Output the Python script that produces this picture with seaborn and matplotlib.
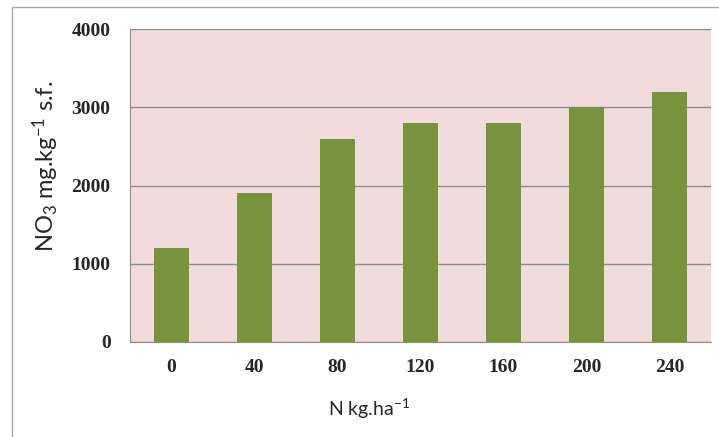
import matplotlib
matplotlib.use("Agg")
import matplotlib.pyplot as plt
import seaborn as sns
import pandas as pd
from matplotlib.patches import Rectangle

# data
n_rates = ["0", "40", "80", "120", "160", "200", "240"]
no3_values = [1200, 1900, 2600, 2800, 2800, 3000, 3200]

df = pd.DataFrame({"N": n_rates, "NO3": no3_values})

sns.set_style("white")
plt.rcParams["mathtext.fontset"] = "custom"
plt.rcParams["mathtext.rm"] = "Lato"
plt.rcParams["mathtext.default"] = "regular"

fig = plt.figure(figsize=(7.19, 4.37), dpi=100)
# outer chart frame (like the Excel chart area)
fig.patches.append(Rectangle((12 / 719, -0.05), 1.2, 1 - 7 / 437 + 0.05,
                             transform=fig.transFigure, fill=False,
                             edgecolor="#a6a6a6", linewidth=1.0))

ax = fig.add_axes([130 / 719, 1 - 342 / 437, 581 / 719, (342 - 29) / 437])
ax.set_facecolor("#f2dcdb")

sns.barplot(data=df, x="N", y="NO3", color="#77933c", saturation=1,
            width=0.41, linewidth=0, ax=ax, zorder=3)

ax.set_ylim(0, 4000)
ax.set_yticks([0, 1000, 2000, 3000, 4000])
ax.yaxis.grid(True, color="#8c8c8c", linewidth=1.0, zorder=0)
ax.set_axisbelow(True)

for side in ["top", "right"]:
    ax.spines[side].set_visible(False)
ax.spines["left"].set_color("#8c8c8c")
ax.spines["bottom"].set_color("#8c8c8c")

ax.tick_params(axis="both", length=0)
ax.tick_params(axis="x", pad=12)
ax.tick_params(axis="y", pad=14)
for lab in ax.get_yticklabels() + ax.get_xticklabels():
    lab.set_fontfamily("Liberation Serif")
    lab.set_fontweight("bold")
    lab.set_fontsize(14)
    lab.set_color("#262626")

ax.set_xlabel("N kg.ha$^{-1}$", fontsize=14, family="Lato", color="#262626")
ax.set_ylabel("NO$_3$ mg.kg$^{-1}$ s.f.", fontsize=17, family="Lato", color="#262626")
ax.xaxis.set_label_coords(0.411, -0.214)
ax.yaxis.set_label_coords(-0.145, 0.562)
ax.xaxis.label.set_va("center")
ax.yaxis.label.set_va("center")

fig.savefig("out.png", dpi=100)
